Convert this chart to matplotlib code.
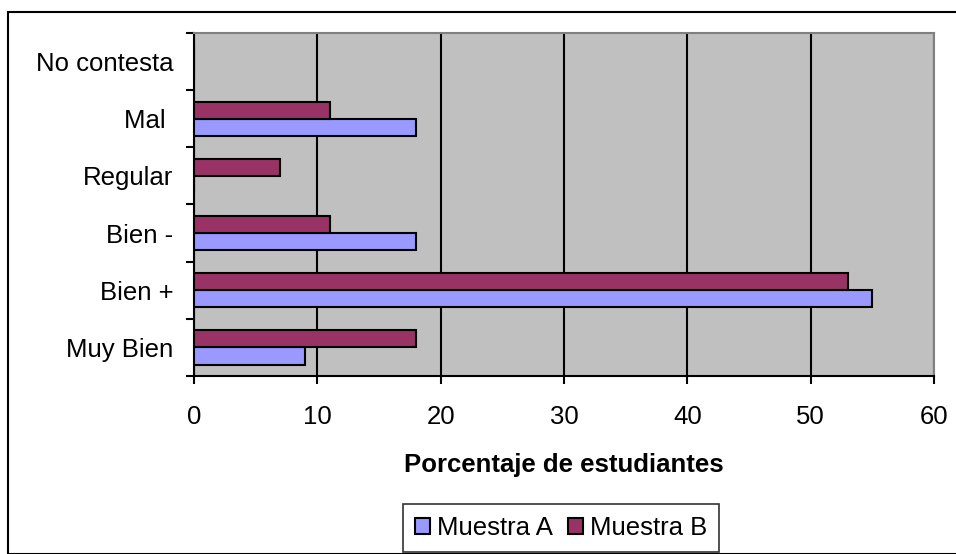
import matplotlib
matplotlib.use("Agg")
import matplotlib.pyplot as plt
import numpy as np
from matplotlib.patches import Rectangle

categories = ["Muy Bien", "Bien +", "Bien -", "Regular", "Mal ", "No contesta"]
muestra_a = [9, 55, 18, 0, 18, 0]
muestra_b = [18, 53, 11, 7, 11, 0]
xticks = [0, 10, 20, 30, 40, 50, 60]

plt.rcParams['font.family'] = ['Liberation Sans', 'DejaVu Sans']
FS = 18.5

fig = plt.figure(figsize=(9.56, 5.54), dpi=100)
fig.patches.append(Rectangle((8/956, 0), 1.2, 1 - 12/554, transform=fig.transFigure,
                             fill=False, edgecolor='black', linewidth=1.5, zorder=0))
ax = fig.add_axes([194/956, 1 - 376/554, (934 - 194)/956, (376 - 33)/554])
ax.set_facecolor('#C0C0C0')

y = np.arange(len(categories))
h = 0.3
ax.barh(y - h/2, muestra_a, height=h, color='#9999FF', edgecolor='black', linewidth=1.5,
        label='Muestra A', zorder=3)
ax.barh(y + h/2, muestra_b, height=h, color='#993366', edgecolor='black', linewidth=1.5,
        label='Muestra B', zorder=3)

ax.set_xlim(0, 60)
ax.set_ylim(-0.5, len(categories) - 0.5)
ax.set_xticks(xticks)
ax.set_xticklabels([str(v) for v in xticks], fontsize=FS)
ax.set_yticks(y)
ax.set_yticklabels(categories, fontsize=FS)
ax.set_yticks(np.arange(len(categories) + 1) - 0.5, minor=True)
ax.tick_params(axis='y', which='major', length=0, pad=15)
ax.tick_params(axis='y', which='minor', length=6, width=1.5, direction='out')
ax.tick_params(axis='x', length=6, width=1.5, direction='out', pad=15)
ax.grid(axis='x', color='black', linewidth=1.5, zorder=1)
ax.set_axisbelow(True)
for s in ['left', 'bottom']:
    ax.spines[s].set_color('black')
    ax.spines[s].set_linewidth(1.5)
for s in ['top', 'right']:
    ax.spines[s].set_color('#808080')
    ax.spines[s].set_linewidth(1.5)

ax.set_xlabel('Porcentaje de estudiantes', fontsize=FS, fontweight='bold', labelpad=17)

leg = fig.legend(loc='center', bbox_to_anchor=(561/956, 1 - 528/554), ncol=2,
                 fontsize=FS, frameon=True, fancybox=False, edgecolor='black',
                 handlelength=0.6, handleheight=0.6, handletextpad=0.25, columnspacing=0.6,
                 borderpad=0.45, borderaxespad=0)
leg.get_frame().set_linewidth(1.2)

fig.savefig('out.png', dpi=100)
